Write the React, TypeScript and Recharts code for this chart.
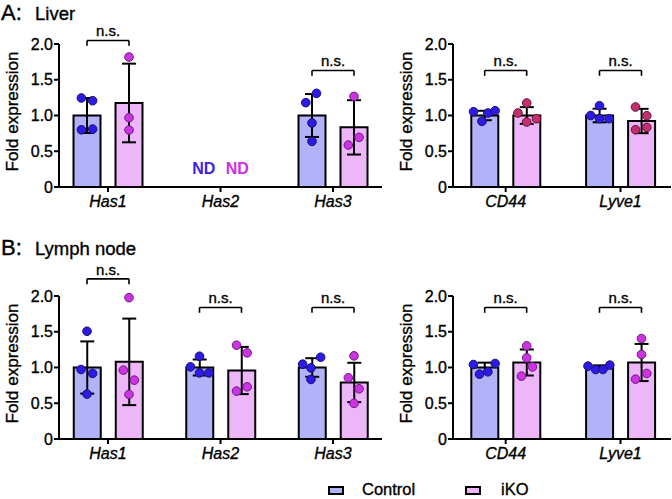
import React from 'react';
import { ComposedChart, Bar, Scatter, XAxis, YAxis, ErrorBar, ReferenceLine, ReferenceDot } from 'recharts';

const FONT = '"Liberation Sans", Arial, Helvetica, sans-serif';
const TEXT_WEIGHT_STROKE = 0.35;

// ---------- series styling ----------
const CONTROL_FILL = '#b2b2f8';
const IKO_FILL = '#ecb6f8';
const CONTROL_DOT = { fill: '#2c1be6', stroke: '#1a1070' };
const IKO_DOT = { fill: '#cc33e3', stroke: '#6e1a80' };
const IKO_DOT_RECEPTOR_LIVER = { fill: '#c62f6f', stroke: '#5e1034' };
const ND_CONTROL_COLOR = '#3a22e8';
const ND_IKO_COLOR = '#cc30e6';

const SERIES = [
  { name: 'Control', fill: CONTROL_FILL },
  { name: 'iKO', fill: IKO_FILL },
];

// ---------- categories / ticks ----------
const HAS_GENES = ['Has1', 'Has2', 'Has3'];
const RECEPTOR_GENES = ['CD44', 'Lyve1'];
const Y_TICKS = [0, 0.5, 1, 1.5, 2];

// ---------- A: Liver, Has genes ----------
const LIVER_HAS_CTRL_MEAN = [1.0, null, 1.0];
const LIVER_HAS_CTRL_SD = [0.245, null, 0.3];
const LIVER_HAS_IKO_MEAN = [1.175, null, 0.834];
const LIVER_HAS_IKO_SD = [0.55, null, 0.38];
const LIVER_HAS_CTRL_POINTS = [[1.245, 1.207, 0.8, 0.81], [], [1.18, 1.31, 0.895, 0.638]];
const LIVER_HAS_CTRL_JITTER = [[-0.05, 0.05, -0.05, 0.05], [], [-0.055, 0.04, 0, 0]];
const LIVER_HAS_IKO_POINTS = [[1.818, 0.969, 0.797], [], [1.267, 0.694, 0.587]];
const LIVER_HAS_IKO_JITTER = [[0, 0, 0], [], [0, 0.045, -0.05]];
const LIVER_HAS_BRACKETS = [2.05, null, 1.63];
const LIVER_HAS_ND = [false, true, false];

// ---------- A: Liver, receptors ----------
const LIVER_REC_CTRL_MEAN = [1.0, 1.0];
const LIVER_REC_CTRL_SD = [0.066, 0.095];
const LIVER_REC_IKO_MEAN = [1.0, 0.923];
const LIVER_REC_IKO_SD = [0.117, 0.17];
const LIVER_REC_CTRL_POINTS = [[1.053, 0.918, 1.035, 1.067], [1.0, 1.137, 0.955, 0.955]];
const LIVER_REC_CTRL_JITTER = [[-0.097, -0.024, 0.028, 0.091], [-0.077, 0, 0, 0.083]];
const LIVER_REC_IKO_POINTS = [[1.035, 1.175, 0.909, 0.955], [1.119, 0.997, 0.801, 0.834]];
const LIVER_REC_IKO_JITTER = [[-0.076, 0, 0, 0.085], [-0.052, 0.046, -0.052, 0.046]];
const LIVER_REC_BRACKETS = [1.63, 1.63];
const LIVER_REC_ND = [false, false];

// ---------- B: Lymph node, Has genes ----------
const LN_HAS_CTRL_MEAN = [1.0, 1.0, 1.0];
const LN_HAS_CTRL_SD = [0.365, 0.112, 0.13];
const LN_HAS_IKO_MEAN = [1.079, 0.958, 0.791];
const LN_HAS_IKO_SD = [0.605, 0.33, 0.275];
const LN_HAS_CTRL_POINTS = [[1.507, 0.972, 0.917, 0.628], [1.009, 1.158, 0.925, 0.925], [1.047, 1.144, 0.995, 0.833]];
const LN_HAS_CTRL_JITTER = [[0, -0.053, 0.05, 0], [-0.08, 0, 0, 0.083], [-0.083, 0.077, -0.009, -0.009]];
const LN_HAS_IKO_POINTS = [[1.977, 0.963, 0.823, 0.623], [1.312, 1.205, 0.67, 0.73], [1.163, 0.856, 0.702, 0.498]];
const LN_HAS_IKO_JITTER = [[0, -0.05, 0.047, 0], [-0.044, 0.05, -0.044, 0.05], [0, -0.05, 0.045, 0]];
const LN_HAS_BRACKETS = [2.24, 1.84, 1.84];
const LN_HAS_ND = [false, false, false];

// ---------- B: Lymph node, receptors ----------
const LN_REC_CTRL_MEAN = [1.0, 1.0];
const LN_REC_CTRL_SD = [0.068, 0.03];
const LN_REC_IKO_MEAN = [1.07, 1.07];
const LN_REC_IKO_SD = [0.182, 0.26];
const LN_REC_CTRL_POINTS = [[1.042, 0.907, 0.94, 1.056], [1.019, 0.972, 0.972, 1.033]];
const LN_REC_CTRL_JITTER = [[-0.098, -0.045, 0.028, 0.091], [-0.1, -0.033, 0.03, 0.09]];
const LN_REC_IKO_POINTS = [[1.302, 1.135, 1.009, 0.879], [1.405, 1.182, 0.917, 0.837]];
const LN_REC_IKO_JITTER = [[0, 0, 0.05, -0.046], [0, 0, 0.046, -0.052]];
const LN_REC_BRACKETS = [1.84, 1.84];
const LN_REC_ND = [false, false];

// ---------- layout ----------
const CHART_HEIGHT = 220;
const MARGIN_TOP = 44;
const X_AXIS_HEIGHT = 33;
const BAR_SIZE = 27;
const BAR_GAP = 15;
const BRACKET_DROP = 0.075;
const X_TICK_FONT = 16;
const Y_TICK_FONT = 16;

type Dot = { fill: string; stroke: string };

type PanelProps = {
  genes: string[];
  ctrlMean: (number | null)[];
  ctrlSd: (number | null)[];
  ikoMean: (number | null)[];
  ikoSd: (number | null)[];
  ctrlPts: number[][];
  ctrlJit: number[][];
  ikoPts: number[][];
  ikoJit: number[][];
  brackets: (number | null)[];
  nd: boolean[];
  ikoDot: Dot;
  left: number;
  top: number;
  width: number;
  yAxisWidth: number;
  marginRight: number;
  domain: [number, number];
};

const makeDotShape = (dot: Dot) => (props: any) => {
  const { cx, cy } = props;
  if (cx == null || cy == null) return <g />;
  return <circle cx={cx} cy={cy} r={4.3} fill={dot.fill} stroke={dot.stroke} strokeWidth={1} />;
};

const YLabel = (props: any) => {
  const vb = props.viewBox || {};
  const cx = (vb.x ?? 0) + (vb.width ?? 0) - 47;
  const cy = (vb.y ?? 0) + (vb.height ?? 0) / 2 - 4;
  return (
    <text
      x={cx}
      y={cy}
      transform={`rotate(-90 ${cx} ${cy})`}
      textAnchor="middle"
      dominantBaseline="central"
      fontFamily={FONT}
      fontSize={17}
      fill="#000"
      stroke="#000"
      strokeWidth={TEXT_WEIGHT_STROKE}
    >
      Fold expression
    </text>
  );
};

function Panel(p: PanelProps) {
  const plotWidth = p.width - p.yAxisWidth - p.marginRight;
  const spacing = plotWidth / (p.domain[1] - p.domain[0]);
  const shift = (BAR_SIZE + BAR_GAP) / 2 / spacing;

  const barData = p.genes
    .map((g, i) => ({ x: i, gene: g, ctrl: p.ctrlMean[i], ctrlSd: p.ctrlSd[i], iko: p.ikoMean[i], ikoSd: p.ikoSd[i] }))
    .filter((d) => d.ctrl != null);

  const ctrlScatter = p.ctrlPts.flatMap((pts, i) => pts.map((y, j) => ({ x: i - shift + p.ctrlJit[i][j], y })));
  const ikoScatter = p.ikoPts.flatMap((pts, i) => pts.map((y, j) => ({ x: i + shift + p.ikoJit[i][j], y })));

  const lineStyle = { stroke: '#000', strokeWidth: 1.6 };

  const bracketLines = p.brackets.flatMap((b, i) => {
    if (b == null) return [];
    return [
      <ReferenceLine
        key={`bh${i}`}
        xAxisId="pts"
        segment={[{ x: i - shift, y: b }, { x: i + shift, y: b }]}
        {...lineStyle}
        ifOverflow="visible"
        label={{
          value: 'n.s.',
          position: 'top',
          offset: 4,
          fill: '#000',
          stroke: '#000',
          strokeWidth: TEXT_WEIGHT_STROKE,
          fontSize: 15,
          fontFamily: FONT,
        }}
      />,
      <ReferenceLine
        key={`bl${i}`}
        xAxisId="pts"
        segment={[{ x: i - shift, y: b }, { x: i - shift, y: b - BRACKET_DROP }]}
        {...lineStyle}
        ifOverflow="visible"
      />,
      <ReferenceLine
        key={`br${i}`}
        xAxisId="pts"
        segment={[{ x: i + shift, y: b }, { x: i + shift, y: b - BRACKET_DROP }]}
        {...lineStyle}
        ifOverflow="visible"
      />,
    ];
  });

  const ndMarks = p.nd.flatMap((isNd, i) => {
    if (!isNd) return [];
    return [
      <ReferenceDot
        key={`ndc${i}`}
        xAxisId="pts"
        x={i - shift * 0.8}
        y={0.256}
        r={0}
        fill="none"
        stroke="none"
        ifOverflow="visible"
        label={{ value: 'ND', position: 'center', fill: ND_CONTROL_COLOR, fontSize: 16, fontWeight: 'bold', fontFamily: FONT }}
      />,
      <ReferenceDot
        key={`ndi${i}`}
        xAxisId="pts"
        x={i + shift * 0.8}
        y={0.256}
        r={0}
        fill="none"
        stroke="none"
        ifOverflow="visible"
        label={{ value: 'ND', position: 'center', fill: ND_IKO_COLOR, fontSize: 16, fontWeight: 'bold', fontFamily: FONT }}
      />,
    ];
  });

  return (
    <div style={{ position: 'absolute', left: p.left, top: p.top }}>
      <ComposedChart
        width={p.width}
        height={CHART_HEIGHT}
        data={barData}
        margin={{ top: MARGIN_TOP, right: p.marginRight, bottom: 0, left: 0 }}
        barSize={BAR_SIZE}
        barGap={BAR_GAP}
        style={{ fontFamily: FONT }}
      >
        <XAxis
          xAxisId="bars"
          type="number"
          dataKey="x"
          domain={p.domain}
          ticks={p.genes.map((_, i) => i)}
          tickCount={p.genes.length}
          interval={0}
          tickFormatter={(v: number) => p.genes[Math.round(v)] ?? ''}
          height={X_AXIS_HEIGHT}
          axisLine={{ stroke: '#000', strokeWidth: 2 }}
          tickLine={{ stroke: '#000', strokeWidth: 2 }}
          tickSize={5}
          tickMargin={4}
          tick={{
            fill: '#000',
            stroke: '#000',
            strokeWidth: TEXT_WEIGHT_STROKE,
            fontSize: X_TICK_FONT,
            fontStyle: 'italic',
            fontFamily: FONT,
          }}
        />
        <XAxis xAxisId="pts" type="number" dataKey="x" domain={p.domain} hide />
        <YAxis
          type="number"
          domain={[0, 2]}
          ticks={Y_TICKS}
          interval={0}
          width={p.yAxisWidth}
          tickFormatter={(v: number) => (v === 0 ? '0' : v.toFixed(1))}
          axisLine={{ stroke: '#000', strokeWidth: 2 }}
          tickLine={{ stroke: '#000', strokeWidth: 2 }}
          tickSize={5}
          tickMargin={1}
          tick={{ fill: '#000', stroke: '#000', strokeWidth: TEXT_WEIGHT_STROKE, fontSize: Y_TICK_FONT, fontFamily: FONT }}
          label={{ content: <YLabel /> } as any}
        />
        <Bar xAxisId="bars" dataKey="ctrl" name="Control" fill={CONTROL_FILL} stroke="#000" strokeWidth={2} isAnimationActive={false}>
          <ErrorBar dataKey="ctrlSd" direction="y" width={7} stroke="#000" strokeWidth={2} />
        </Bar>
        <Bar xAxisId="bars" dataKey="iko" name="iKO" fill={IKO_FILL} stroke="#000" strokeWidth={2} isAnimationActive={false}>
          <ErrorBar dataKey="ikoSd" direction="y" width={7} stroke="#000" strokeWidth={2} />
        </Bar>
        <Scatter
          xAxisId="pts"
          data={ctrlScatter}
          dataKey="y"
          isAnimationActive={false}
          legendType="none"
          shape={makeDotShape(CONTROL_DOT)}
        />
        <Scatter
          xAxisId="pts"
          data={ikoScatter}
          dataKey="y"
          isAnimationActive={false}
          legendType="none"
          shape={makeDotShape(p.ikoDot)}
        />
        {bracketLines}
        {ndMarks}
      </ComposedChart>
    </div>
  );
}

const LEFT_DOMAIN: [number, number] = [-0.4356, 2.4356];
const RIGHT_DOMAIN: [number, number] = [-0.459, 1.44];

export default function App() {
  return (
    <div style={{ position: 'absolute', left: 0, top: 0, width: 672, height: 499, background: '#fff', overflow: 'hidden' }}>
      <Panel
        genes={HAS_GENES}
        ctrlMean={LIVER_HAS_CTRL_MEAN}
        ctrlSd={LIVER_HAS_CTRL_SD}
        ikoMean={LIVER_HAS_IKO_MEAN}
        ikoSd={LIVER_HAS_IKO_SD}
        ctrlPts={LIVER_HAS_CTRL_POINTS}
        ctrlJit={LIVER_HAS_CTRL_JITTER}
        ikoPts={LIVER_HAS_IKO_POINTS}
        ikoJit={LIVER_HAS_IKO_JITTER}
        brackets={LIVER_HAS_BRACKETS}
        nd={LIVER_HAS_ND}
        ikoDot={IKO_DOT}
        left={0}
        top={0}
        width={390}
        yAxisWidth={59}
        marginRight={8}
        domain={LEFT_DOMAIN}
      />
      <Panel
        genes={RECEPTOR_GENES}
        ctrlMean={LIVER_REC_CTRL_MEAN}
        ctrlSd={LIVER_REC_CTRL_SD}
        ikoMean={LIVER_REC_IKO_MEAN}
        ikoSd={LIVER_REC_IKO_SD}
        ctrlPts={LIVER_REC_CTRL_POINTS}
        ctrlJit={LIVER_REC_CTRL_JITTER}
        ikoPts={LIVER_REC_IKO_POINTS}
        ikoJit={LIVER_REC_IKO_JITTER}
        brackets={LIVER_REC_BRACKETS}
        nd={LIVER_REC_ND}
        ikoDot={IKO_DOT_RECEPTOR_LIVER}
        left={390}
        top={0}
        width={282}
        yAxisWidth={63}
        marginRight={1}
        domain={RIGHT_DOMAIN}
      />
      <Panel
        genes={HAS_GENES}
        ctrlMean={LN_HAS_CTRL_MEAN}
        ctrlSd={LN_HAS_CTRL_SD}
        ikoMean={LN_HAS_IKO_MEAN}
        ikoSd={LN_HAS_IKO_SD}
        ctrlPts={LN_HAS_CTRL_POINTS}
        ctrlJit={LN_HAS_CTRL_JITTER}
        ikoPts={LN_HAS_IKO_POINTS}
        ikoJit={LN_HAS_IKO_JITTER}
        brackets={LN_HAS_BRACKETS}
        nd={LN_HAS_ND}
        ikoDot={IKO_DOT}
        left={0}
        top={252}
        width={390}
        yAxisWidth={59}
        marginRight={8}
        domain={LEFT_DOMAIN}
      />
      <Panel
        genes={RECEPTOR_GENES}
        ctrlMean={LN_REC_CTRL_MEAN}
        ctrlSd={LN_REC_CTRL_SD}
        ikoMean={LN_REC_IKO_MEAN}
        ikoSd={LN_REC_IKO_SD}
        ctrlPts={LN_REC_CTRL_POINTS}
        ctrlJit={LN_REC_CTRL_JITTER}
        ikoPts={LN_REC_IKO_POINTS}
        ikoJit={LN_REC_IKO_JITTER}
        brackets={LN_REC_BRACKETS}
        nd={LN_REC_ND}
        ikoDot={IKO_DOT}
        left={390}
        top={252}
        width={282}
        yAxisWidth={63}
        marginRight={1}
        domain={RIGHT_DOMAIN}
      />
      <svg
        width={672}
        height={499}
        style={{ position: 'absolute', left: 0, top: 0, pointerEvents: 'none' }}
        fontFamily={FONT}
      >
        <text x={1} y={19.5} fontSize={22} fill="#000" stroke="#000" strokeWidth={TEXT_WEIGHT_STROKE}>A:</text>
        <text x={35} y={19.5} fontSize={18.5} fill="#000" stroke="#000" strokeWidth={TEXT_WEIGHT_STROKE}>Liver</text>
        <text x={1} y={255} fontSize={22} fill="#000" stroke="#000" strokeWidth={TEXT_WEIGHT_STROKE}>B:</text>
        <text x={35} y={255} fontSize={18.5} fill="#000" stroke="#000" strokeWidth={TEXT_WEIGHT_STROKE}>Lymph node</text>
        {SERIES.map((s, i) => (
          <g key={s.name}>
            <rect x={i === 0 ? 329 : 466} y={487} width={14} height={7} fill={s.fill} stroke="#000" strokeWidth={2} />
            <text
              x={i === 0 ? 362 : 501}
              y={494.5}
              fontSize={16.5}
              fill="#000"
              stroke="#000"
              strokeWidth={TEXT_WEIGHT_STROKE}
            >
              {s.name}
            </text>
          </g>
        ))}
      </svg>
    </div>
  );
}
